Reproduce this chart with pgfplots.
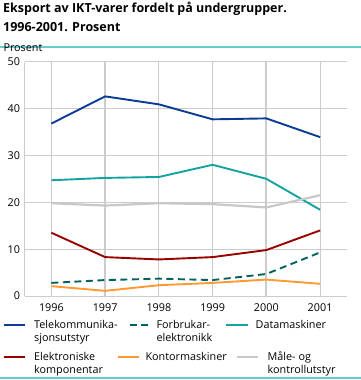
\documentclass[border=0pt]{standalone}
\usepackage{fontspec}
\setmainfont{Open Sans}
\usepackage{pgfplots}
\pgfplotsset{compat=1.18}
\definecolor{cTel}{HTML}{0A3C96}
\definecolor{cFor}{HTML}{00625F}
\definecolor{cDat}{HTML}{13A3A0}
\definecolor{cEl}{HTML}{990000}
\definecolor{cKon}{HTML}{FF9933}
\definecolor{cMaa}{HTML}{C8C8C8}
\definecolor{cRule}{HTML}{66CCCC}
\definecolor{cGrid}{HTML}{CCCCCC}
\newcommand{\lf}{\fontsize{10.8}{12.7}\selectfont}
\pgfplotsset{
  legbase/.style={
    legend style={draw=none, fill=none, inner sep=0pt, outer sep=0pt,
      nodes={inner sep=0pt, outer sep=0pt}, cells={anchor=base west},
      column sep=0pt, row sep=0pt, font=\lf},
    legend image code/.code={\draw[##1] (0pt,4pt) -- (21.5pt,4pt);},
  },
  myframe/.style={at={(24.5pt,84pt)}, anchor=south west, scale only axis,
    width=322.5pt, height=234.3pt, xmin=1995.5, xmax=2001.5, ymin=0, ymax=50},
}
\begin{document}
\begin{tikzpicture}
\path[use as bounding box] (0pt,0pt) rectangle (361pt,380pt);
\fill[cRule] (0pt,332.3pt) rectangle (361pt,334.3pt);
\fill[cRule] (0pt,0.7pt) rectangle (361pt,2.7pt);
\node[anchor=base west, inner sep=0pt, font=\bfseries\fontsize{12.5}{14}\selectfont] at (3pt,367.3pt) {Eksport av IKT-varer fordelt på undergrupper.};
\node[anchor=base west, inner sep=0pt, font=\bfseries\fontsize{12.5}{14}\selectfont] at (3pt,348.3pt) {1996-2001. Prosent};
\node[anchor=base west, inner sep=0pt, font=\lf] at (3.3pt,328pt) {Prosent};
\begin{axis}[myframe, legbase,
  xtick={1996,...,2001}, xticklabels={1996,1997,1998,1999,2000,2001},
  ytick={0,10,...,50}, yticklabels={0,10,20,30,40,50},
  axis x line*=bottom, axis y line*=left,
  axis line style={cGrid, line width=0.8pt, -},
  grid=major, major grid style={cGrid, line width=0.8pt},
  major tick length=0pt,
  tick label style={font=\lf},
  xticklabel style={yshift=-3.7pt},
  yticklabel style={xshift=-1pt},
  legend columns=3,
  legend style={at={(-0.0676,-0.1058)}, anchor=north west,
    /tikz/column 1/.style={column sep=8.1pt},
    /tikz/column 3/.style={column sep=4.5pt},
    /tikz/column 5/.style={column sep=6.8pt}},
]
\draw[cGrid, line width=2pt] (axis cs:1997,0) -- (axis cs:1997,50);
\draw[cGrid, line width=2pt] (axis cs:2000,0) -- (axis cs:2000,50);
\addplot[cTel, line width=1.9pt] coordinates {(1996,36.8) (1997,42.6) (1998,40.9) (1999,37.7) (2000,37.9) (2001,33.9)};
\addlegendentry{\parbox[t]{94.4pt}{\lf Telekommunika-\\sjonsutstyr}}
\addplot[cFor, line width=1.9pt, dash pattern=on 7pt off 4.5pt] coordinates {(1996,2.8) (1997,3.4) (1998,3.7) (1999,3.4) (2000,4.7) (2001,9.3)};
\addlegendentry{\parbox[t]{69pt}{\lf Forbrukar-\\elektronikk}}
\addplot[cDat, line width=1.9pt] coordinates {(1996,24.7) (1997,25.2) (1998,25.4) (1999,28.0) (2000,25.0) (2001,18.4)};
\addlegendentry{\parbox[t]{80pt}{\lf Datamaskiner}}
\addplot[cEl, line width=1.9pt, forget plot] coordinates {(1996,13.5) (1997,8.3) (1998,7.8) (1999,8.3) (2000,9.8) (2001,14.0)};
\addplot[cKon, line width=1.9pt, forget plot] coordinates {(1996,2.1) (1997,1.1) (1998,2.3) (1999,2.8) (2000,3.5) (2001,2.6)};
\addplot[cMaa, line width=2.2pt, forget plot] coordinates {(1996,19.8) (1997,19.3) (1998,19.8) (1999,19.6) (2000,18.9) (2001,21.5)};
\end{axis}
\begin{axis}[myframe, legbase, hide axis,
  legend columns=3,
  legend style={at={(-0.0676,-0.2382)}, anchor=north west,
    /tikz/column 1/.style={column sep=8.1pt},
    /tikz/column 3/.style={column sep=5.2pt},
    /tikz/column 5/.style={column sep=8.5pt}},
]
\addlegendimage{cEl, line width=1.9pt}
\addlegendentry{\parbox[t]{82.7pt}{\lf Elektroniske\\komponentar}}
\addlegendimage{cKon, line width=1.9pt}
\addlegendentry{\parbox[t]{90pt}{\lf Kontormaskiner}}
\addlegendimage{cMaa, line width=2.2pt}
\addlegendentry{\parbox[t]{90pt}{\lf Måle- og\\kontrollutstyr}}
\end{axis}
\end{tikzpicture}
\end{document}
